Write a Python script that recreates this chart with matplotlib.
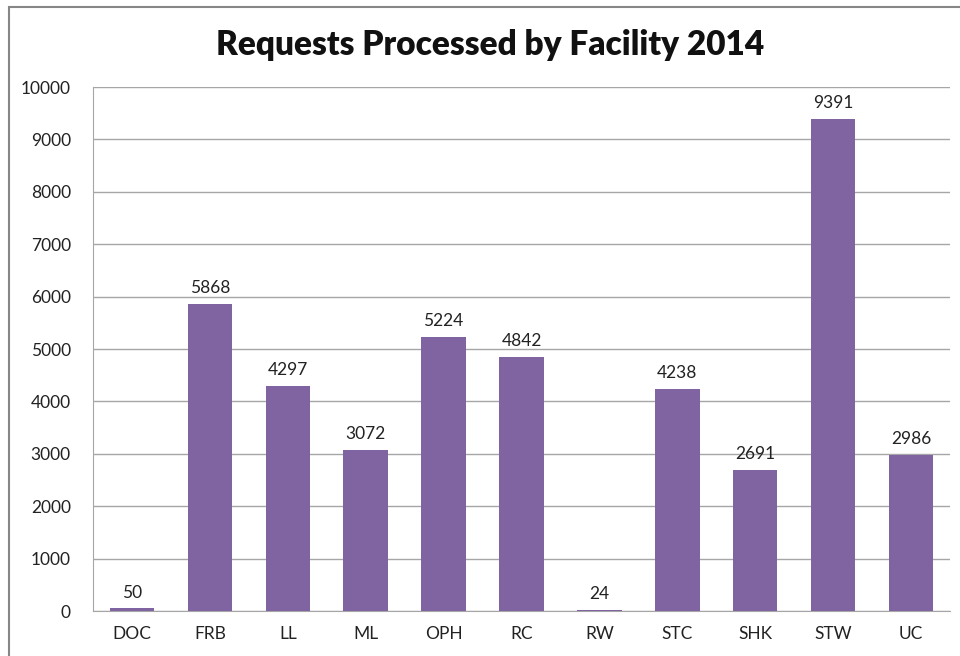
import matplotlib
matplotlib.use("Agg")
import matplotlib.pyplot as plt
from matplotlib.patches import Rectangle

facilities = ["DOC", "FRB", "LL", "ML", "OPH", "RC", "RW", "STC", "SHK", "STW", "UC"]
requests = [50, 5868, 4297, 3072, 5224, 4842, 24, 4238, 2691, 9391, 2986]
y_ticks = [0, 1000, 2000, 3000, 4000, 5000, 6000, 7000, 8000, 9000, 10000]

plt.rcParams['font.family'] = ['Lato', 'DejaVu Sans']

fig = plt.figure(figsize=(9.6, 6.56), dpi=100)
ax = fig.add_axes([93/960, 1 - 611/656, (950 - 93)/960, (611 - 87)/656])

# outer chart border (cut off at right and bottom like the screenshot)
fig.patches.append(Rectangle((9/960, -0.2), 1.2, 1 - 7/656 + 0.2,
                             transform=fig.transFigure, fill=False,
                             edgecolor='#868686', linewidth=1.5, clip_on=False))

x = range(len(facilities))
bars = ax.bar(x, requests, width=0.57, color='#8064A2', zorder=3)
for xi, v in zip(x, requests):
    ax.text(xi, v + 150, str(v), ha='center', va='bottom', fontsize=12.5, color='#222222')

ax.set_xlim(-0.5, len(facilities) - 0.5)
ax.set_ylim(0, 10000)
ax.set_yticks(y_ticks)
ax.set_xticks(list(x))
ax.set_xticklabels(facilities)
ax.yaxis.grid(True, color='#a6a6a6', linewidth=1, zorder=0)
ax.tick_params(length=0, labelsize=12.5, colors='#222222', pad=11)
ax.tick_params(axis='y', pad=16)
for s in ['top', 'right']:
    ax.spines[s].set_visible(False)
for s in ['left', 'bottom']:
    ax.spines[s].set_color('#a6a6a6')

fig.text(490/960, 1 - 45/656, "Requests Processed by Facility 2014", ha='center', va='center',
         fontsize=24, fontweight='heavy', color='#111111')

fig.savefig("out.png", dpi=100)
